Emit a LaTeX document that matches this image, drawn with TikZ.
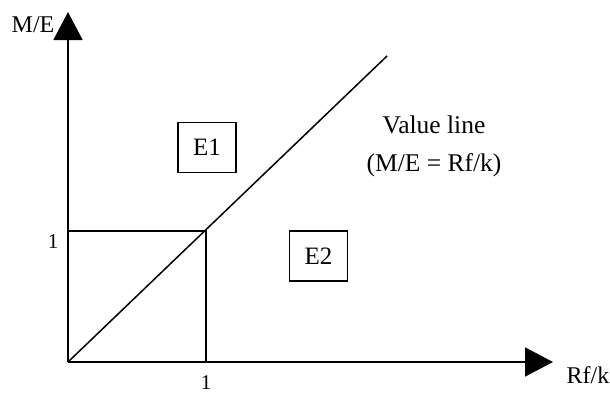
\documentclass[tikz,border=0pt]{standalone}
\usepackage{fontspec}
\setmainfont{Liberation Serif}
\usetikzlibrary{arrows.meta}
\begin{document}
\begin{tikzpicture}[x=1pt,y=-1pt,
  axis/.style={line width=1.7pt,-{Triangle[length=28pt,width=29pt]}},
  thin line/.style={line width=1.5pt},
  regionbox/.style={draw,line width=1.5pt,minimum width=58pt,minimum height=50pt,inner sep=0pt,font=\fontsize{25}{29}\selectfont},
  lbl/.style={inner sep=0pt,font=\fontsize{24}{28}\selectfont},
  tick/.style={inner sep=0pt,font=\fontsize{21}{25}\selectfont}]
\useasboundingbox (0,0) rectangle (610,394);
\coordinate (O) at (68,362);
\coordinate (ytip) at (68,12);
\coordinate (xtip) at (553,362);
\coordinate (P) at (206,231);
\coordinate (Px) at (206,362);
\coordinate (Py) at (68,231);
\coordinate (D) at (387,56);
\draw[axis] (O) -- (ytip);
\draw[axis] (O) -- (xtip);
\draw[thin line] (Py) -- (P) -- (Px);
\draw[thin line] (O) -- (D);
\node[lbl] (me) at (33,25) {M/E};
\node[lbl] (rfk) at (588,375) {Rf/k};
\node[tick] (one y) at (53,242) {1};
\node[tick] (one x) at (206,383) {1};
\node[regionbox] (e1) at (207,147.5) {E1};
\node[regionbox] (e2) at (318.5,256) {E2};
\node[lbl,align=center,font=\fontsize{25.5}{38}\selectfont] (vl) at (434,146) {Value line\\(M/E = Rf/k)};
\end{tikzpicture}
\end{document}
